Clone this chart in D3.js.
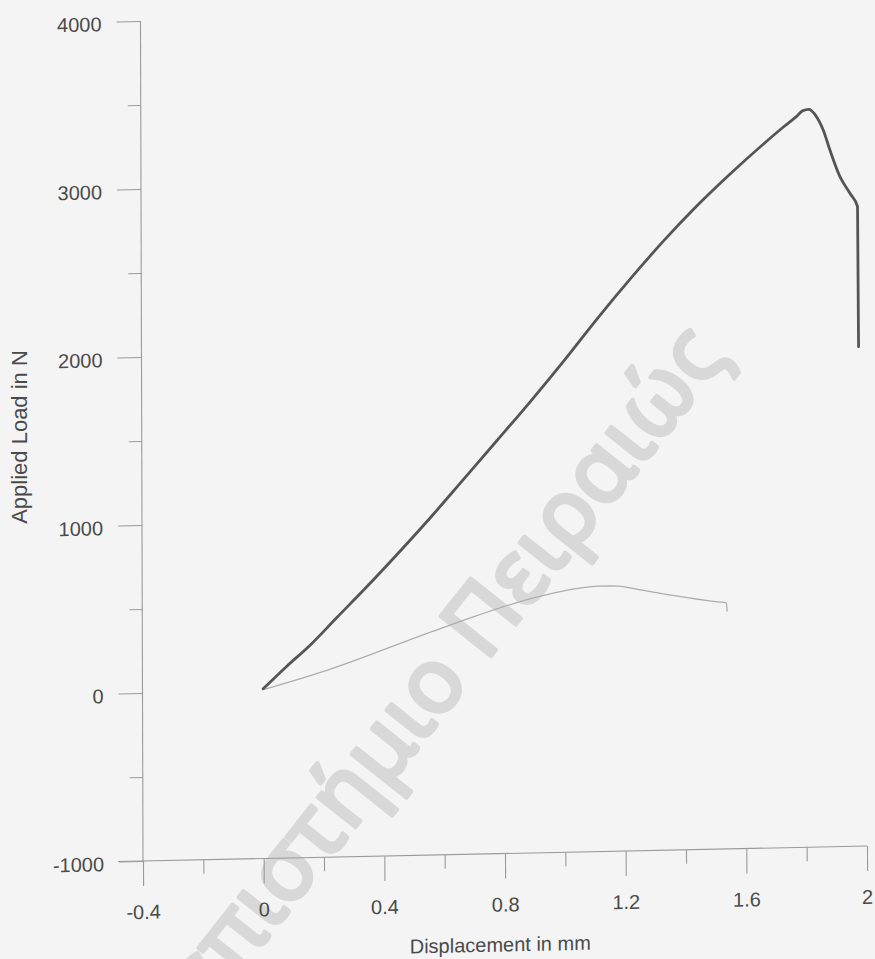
<!DOCTYPE html>
<html>
<head>
<meta charset="utf-8">
<script src="https://cdn.jsdelivr.net/npm/d3@7"></script>
<style>
  html, body { margin: 0; padding: 0; background: #f4f4f4; }
  svg { display: block; }
  text { font-family: "Liberation Sans", Arial, Helvetica, sans-serif; fill: #4a4a4a; }
</style>
</head>
<body>
<svg id="chart" width="875" height="959"></svg>
<script>
// Load–displacement records (displacement in mm, load in N)
const heavyDisp = [0, 0.077, 0.156, 0.245, 0.342, 0.445, 0.558, 0.669, 0.779, 0.890, 1.000, 1.110, 1.221, 1.331, 1.442, 1.552, 1.663, 1.730, 1.773, 1.795, 1.815, 1.835, 1.862, 1.884, 1.917, 1.950, 1.975, 1.977];
const heavyLoad = [10, 139, 264, 425, 600, 793, 1012, 1238, 1462, 1690, 1925, 2170, 2405, 2625, 2830, 3015, 3190, 3290, 3350, 3385, 3392, 3360, 3267, 3147, 2987, 2887, 2806, 1973];

const thinDisp = [0, 0.214, 0.611, 0.911, 1.050, 1.110, 1.177, 1.243, 1.353, 1.508, 1.536, 1.539];
const thinLoad = [5, 114, 361, 524, 570, 580, 578, 556, 518, 472, 465, 412];

const xTickValues = [-0.4, 0, 0.4, 0.8, 1.2, 1.6, 2];
const xMinorValues = [-0.2, 0.2, 0.6, 1.0, 1.4, 1.8];
const yTickValues = [-1000, 0, 1000, 2000, 3000, 4000];
const yMinorValues = [-500, 500, 1500, 2500, 3500];

const xTitle = "Displacement in mm";
const yTitle = "Applied Load in N";
const watermark = "Πανεπιστήμιο Πειραιώς";

// plain hyphen for negatives, as printed on the plot
const fmt = d => String(+(+d).toFixed(1));

const svg = d3.select("#chart");

const x = d3.scaleLinear().domain([-0.4, 2]).range([143, 867]);
const y = d3.scaleLinear().domain([-1000, 4000]).range([861, 21]);

// Watermark, behind everything
svg.append("text")
  .attr("transform", "translate(729,356) rotate(-51.6)")
  .attr("text-anchor", "end")
  .style("font-family", "'Noto Sans', 'Open Sans', sans-serif")
  .style("font-weight", "400")
  .style("font-size", "90px")
  .style("fill", "#d8d8d8")
  .style("stroke", "#d8d8d8")
  .style("stroke-width", "4px")
  .style("stroke-linejoin", "round")
  .text(watermark);

// The printed page sits slightly sheared: x axis rises toward the right
const k = -0.0207, m = 0.003;
const plot = svg.append("g")
  .attr("transform", `matrix(1,${k},${m},1,${-m * 861},${-k * 143})`);

const axisColor = "#9a9a9a";

// Y axis
const yAxis = plot.append("g").attr("transform", `translate(${x(-0.4)},0)`);
yAxis.call(d3.axisLeft(y).tickValues(yTickValues).tickSize(24).tickPadding(15).tickFormat(fmt));
yAxis.append("g").call(d3.axisLeft(y).tickValues(yMinorValues).tickSize(13).tickFormat(""))
  .select(".domain").remove();
yAxis.selectAll(".domain").attr("d", `M0,${y(4000)}V${y(-1000)}`);
yAxis.selectAll("line, path").attr("stroke", axisColor).attr("stroke-width", 1.1);
yAxis.selectAll(".tick text")
  .attr("dy", null).attr("y", 9)
  .style("font-size", "20px").style("fill", "#4a4a4a");

// X axis
const xAxis = plot.append("g").attr("transform", `translate(0,${y(-1000)})`);
xAxis.call(d3.axisBottom(x).tickValues(xTickValues).tickSize(25).tickFormat(fmt));
xAxis.append("g").call(d3.axisBottom(x).tickValues(xMinorValues).tickSize(14).tickFormat(""))
  .select(".domain").remove();
xAxis.select(".domain").attr("d", `M${x(-0.4) - 25},0H${x(2)}`);
xAxis.selectAll("line, path").attr("stroke", axisColor).attr("stroke-width", 1.1);
xAxis.selectAll(".tick text")
  .attr("dy", null).attr("y", 58)
  .style("font-size", "20px").style("fill", "#4a4a4a");

// Axis titles
plot.append("text")
  .attr("x", 500).attr("y", 959)
  .attr("text-anchor", "middle")
  .style("font-size", "20px")
  .text(xTitle);

svg.append("text")
  .attr("transform", "translate(27,437) rotate(-90)")
  .attr("text-anchor", "middle")
  .style("font-size", "22px")
  .text(yTitle);

// Curves
const line = d3.line().x(d => x(d[0])).y(d => y(d[1])).curve(d3.curveMonotoneX);

plot.append("path")
  .datum(d3.zip(thinDisp, thinLoad))
  .attr("d", line)
  .attr("fill", "none")
  .attr("stroke", "#adadad")
  .attr("stroke-width", 1.3);

plot.append("path")
  .datum(d3.zip(heavyDisp, heavyLoad))
  .attr("d", line)
  .attr("fill", "none")
  .attr("stroke", "#555555")
  .attr("stroke-width", 2.8)
  .attr("stroke-linejoin", "round")
  .attr("stroke-linecap", "round");
</script>
</body>
</html>
